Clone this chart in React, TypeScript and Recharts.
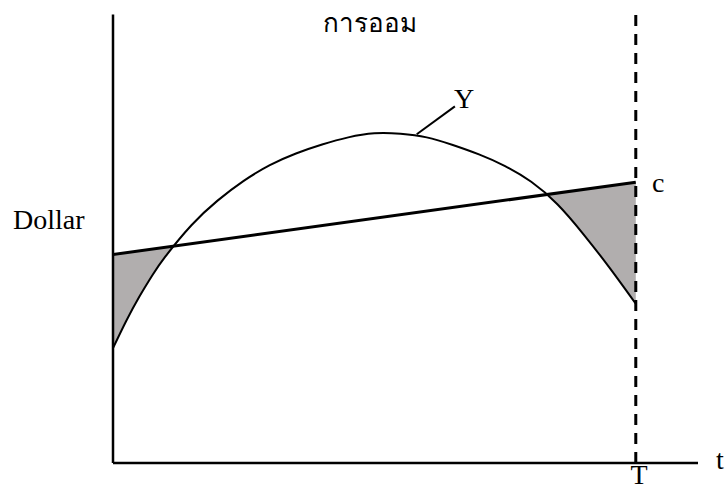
import { ComposedChart, Line, Area, XAxis, YAxis, ReferenceLine } from "recharts";

// diagram units: t along the time axis (T = 10), dollar on the vertical axis
const curveT = [0, 0.25, 0.5, 0.75, 1, 1.5, 2, 2.5, 3, 3.5, 4, 4.5, 5, 5.5, 6, 6.5, 7, 7.5, 8, 8.5, 9, 9.5, 10];
const curveY = [25.6, 31.6, 37.0, 41.8, 46.0, 53.0, 58.5, 62.9, 66.4, 69.0, 71.0, 72.6, 73.5, 73.4, 72.6, 70.9, 68.8, 66.2, 62.7, 57.7, 51.0, 43.5, 35.5];

const consT = [0, 10];
const consC = [46.5, 62.6];

const leftShadeT = [0, 0.25, 0.5, 0.75, 1, 1.15];
const leftShadeLow = [25.6, 31.6, 37.0, 41.8, 46.0, 48.3];
const leftShadeHigh = [46.5, 46.9, 47.3, 47.7, 48.1, 48.3];

const rightShadeT = [8.3, 8.5, 9, 9.5, 10];
const rightShadeLow = [59.9, 57.7, 51.0, 43.5, 35.5];
const rightShadeHigh = [59.9, 60.2, 61.0, 61.8, 62.6];

const T_END = 10;
const T_AXIS_MAX = 11.19;
const Y_AXIS_TOP = 100;
const Y_MAX = 101;

const curveData = curveT.map((t, i) => ({ t, y: curveY[i] }));
const consData = consT.map((t, i) => ({ t, c: consC[i] }));
const leftShade = leftShadeT.map((t, i) => ({ t, band: [leftShadeLow[i], leftShadeHigh[i]] }));
const rightShade = rightShadeT.map((t, i) => ({ t, band: [rightShadeLow[i], rightShadeHigh[i]] }));

const SHADE = "#b1aeae";
const FONT = "'Liberation Serif', 'Times New Roman', serif";

export default function App() {
  return (
    <div style={{ position: "absolute", left: 0, top: 0, width: 725, height: 490, background: "#fff" }}>
      <ComposedChart
        width={725}
        height={490}
        margin={{ top: 10, right: 27, bottom: 27, left: 113 }}
      >
        <XAxis
          type="number"
          dataKey="t"
          domain={[0, T_AXIS_MAX]}
          allowDataOverflow
          tick={false}
          tickLine={false}
          height={0}
          axisLine={false}
        />
        <YAxis
          type="number"
          domain={[0, Y_MAX]}
          allowDataOverflow
          tick={false}
          tickLine={false}
          width={0}
          axisLine={false}
        />
        {/* axes drawn as segments so the vertical one stops below the dashed line's top */}
        <ReferenceLine
          segment={[{ x: 0, y: 0 }, { x: 0, y: Y_AXIS_TOP }]}
          stroke="#000"
          strokeWidth={2.5}
        />
        <ReferenceLine
          segment={[{ x: 0, y: 0 }, { x: T_AXIS_MAX, y: 0 }]}
          stroke="#000"
          strokeWidth={2.5}
        />
        <Area
          data={leftShade}
          dataKey="band"
          type="monotone"
          fill={SHADE}
          fillOpacity={1}
          stroke="none"
          isAnimationActive={false}
        />
        <Area
          data={rightShade}
          dataKey="band"
          type="monotone"
          fill={SHADE}
          fillOpacity={1}
          stroke="none"
          isAnimationActive={false}
        />
        <Line
          data={curveData}
          dataKey="y"
          type="natural"
          stroke="#000"
          strokeWidth={2}
          dot={false}
          isAnimationActive={false}
        />
        <Line
          data={consData}
          dataKey="c"
          type="linear"
          stroke="#000"
          strokeWidth={3}
          dot={false}
          isAnimationActive={false}
        />
        <ReferenceLine
          x={T_END}
          stroke="#000"
          strokeWidth={3}
          strokeDasharray="11 8"
        />
        {/* leader from the curve to its label */}
        <ReferenceLine
          segment={[{ x: 5.81, y: 73.3 }, { x: 6.54, y: 79.5 }]}
          stroke="#000"
          strokeWidth={2}
        />
      </ComposedChart>

      <svg
        width={725}
        height={490}
        style={{ position: "absolute", left: 0, top: 0, pointerEvents: "none" }}
        fontFamily={FONT}
        fontSize={28}
        fill="#000"
      >
        <text x={370} y={32} textAnchor="middle" fontSize={26}>การออม</text>
        <text x={13} y={229}>Dollar</text>
        <text x={454} y={108}>Y</text>
        <text x={652} y={192}>c</text>
        <text x={639} y={484} textAnchor="middle">T</text>
        <text x={716} y={469}>t</text>
      </svg>
    </div>
  );
}
